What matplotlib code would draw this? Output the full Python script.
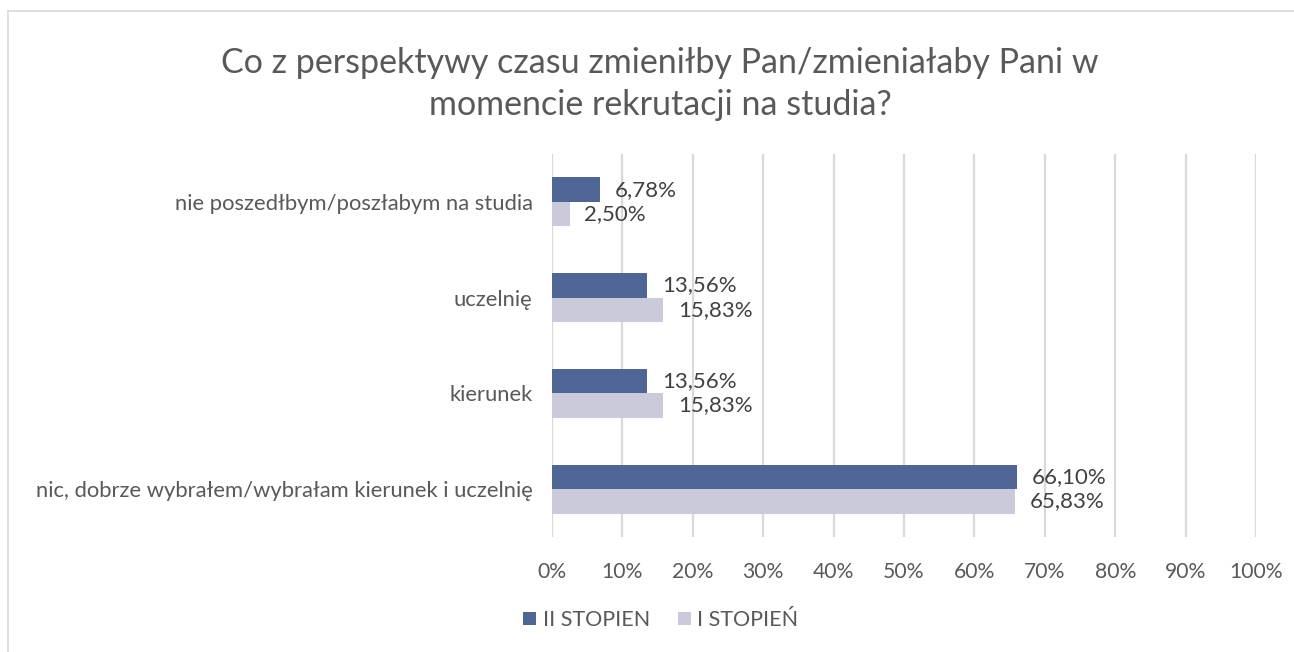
import matplotlib.pyplot as plt
import numpy as np
from matplotlib.lines import Line2D

plt.rcParams['font.family'] = ['Lato', 'DejaVu Sans']

categories = ['nic, dobrze wybrałem/wybrałam kierunek i uczelnię', 'kierunek',
              'uczelnię', 'nie poszedłbym/poszłabym na studia']
ii_stopien = [66.10, 13.56, 13.56, 6.78]
i_stopien = [65.83, 15.83, 15.83, 2.50]
series_names = ['II STOPIEN', 'I STOPIEŃ']
colors = ['#4F6596', '#CBCADB']
text_col = '#595959'

fig = plt.figure(figsize=(12.94, 6.52), dpi=100)
ax = fig.add_axes([552 / 1294, 1 - 537 / 652, 704 / 1294, 383 / 652])

y = np.arange(len(categories))
h = 0.255
b1 = ax.barh(y + h / 2, ii_stopien, height=h, color=colors[0], label=series_names[0], zorder=3)
b2 = ax.barh(y - h / 2, i_stopien, height=h, color=colors[1], label=series_names[1], zorder=3)

for bars, vals in ((b1, ii_stopien), (b2, i_stopien)):
    for bar, v in zip(bars, vals):
        ax.text(v + 2.1, bar.get_y() + bar.get_height() / 2, f'{v:.2f}%'.replace('.', ','),
                va='center', ha='left', fontsize=16, color='#404040')

ax.set_xlim(0, 100)
ax.set_ylim(-0.5, 3.5)
ax.set_xticks(np.arange(0, 101, 10))
ax.set_xticklabels([f'{t}%' for t in range(0, 101, 10)])
ax.set_yticks(y)
ax.set_yticklabels(categories)
ax.tick_params(length=0, labelsize=15.8, colors=text_col, pad=14)
ax.tick_params(axis='x', labelsize=15.2, pad=18)
ax.grid(axis='x', color='#D9D9D9', linewidth=1.6, zorder=0)
for s in ax.spines.values():
    s.set_visible(False)

fig.text(660 / 1294, 1 - 84 / 652, 'Co z perspektywy czasu zmieniłby Pan/zmieniałaby Pani w\nmomencie rekrutacji na studia?',
         ha='center', va='center', fontsize=24.5, color=text_col, linespacing=1.4)

fig.legend(handles=[b1, b2], loc='center', bbox_to_anchor=(661 / 1294, 1 - 620 / 652), ncol=2,
           frameon=False, fontsize=15.5, labelcolor=text_col, handlelength=0.6, handleheight=0.6,
           columnspacing=1.3, handletextpad=0.3)

# frame of the chart area (cropped)
fig.add_artist(Line2D([8 / 1294, 1], [1 - 11 / 652, 1 - 11 / 652], color='#D9D9D9', linewidth=1.2))
fig.add_artist(Line2D([8 / 1294, 8 / 1294], [0, 1 - 11 / 652], color='#D9D9D9', linewidth=1.2))

fig.savefig('out.png', dpi=100)
